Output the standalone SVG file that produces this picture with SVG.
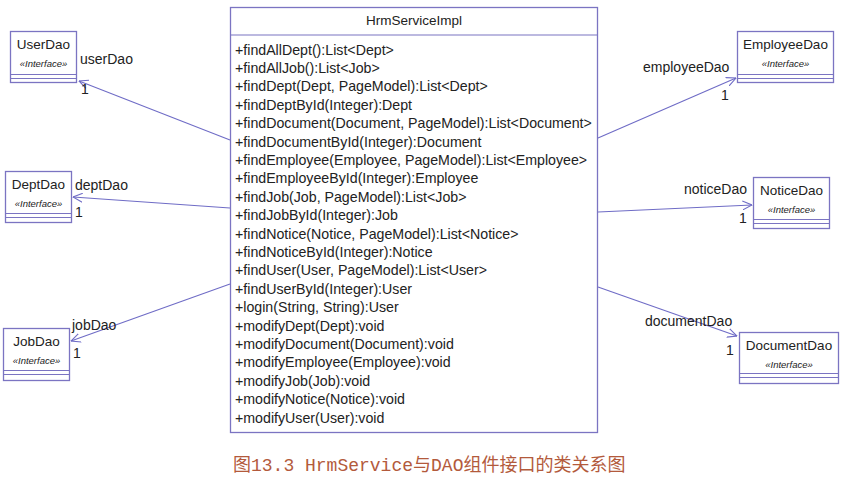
<svg xmlns="http://www.w3.org/2000/svg" width="841" height="481" viewBox="0 0 841 481">
<style>
.box{fill:#fff;stroke:#7b74c2;stroke-width:1.3}
.sep{stroke:#7b74c2;stroke-width:1.2}
.t{font-family:"Liberation Sans",Arial,sans-serif;font-size:13.5px;fill:#222}
.c{text-anchor:middle}
.st{font-family:"Liberation Sans",Arial,sans-serif;font-size:9.5px;font-style:italic;fill:#222;text-anchor:middle}
.m{font-family:"Liberation Sans",Arial,sans-serif;font-size:14.2px;fill:#222}
.lbl{font-family:"Liberation Sans",Arial,sans-serif;font-size:14px;fill:#222}
.conn{stroke:#6f6cc6;stroke-width:1.1;fill:none;marker-end:url(#arr)}
.cap{font-family:"Liberation Mono","Noto Sans CJK SC",monospace;font-size:18px;fill:#b35a3c}
</style>
<defs>
<marker id="arr" viewBox="0 0 10 10" refX="9.5" refY="5" markerWidth="10" markerHeight="10" markerUnits="userSpaceOnUse" orient="auto">
<path d="M0,0.5 L9.5,5 L0,9.5" fill="none" stroke="#6f6cc6" stroke-width="1.1"/>
</marker>
</defs>
<rect width="841" height="481" fill="#fff"/>

<g id="connectors">
<line class="conn" x1="230" y1="140" x2="79" y2="81"/>
<line class="conn" x1="230" y1="208" x2="73" y2="197"/>
<line class="conn" x1="230" y1="284" x2="71" y2="341"/>
<line class="conn" x1="598" y1="138" x2="736" y2="78"/>
<line class="conn" x1="598" y1="212" x2="752" y2="205"/>
<line class="conn" x1="598" y1="287" x2="737" y2="336"/>
<text class="lbl" x="80" y="64">userDao</text>
<text class="lbl" x="81" y="94">1</text>
<text class="lbl" x="75" y="190">deptDao</text>
<text class="lbl" x="75" y="217">1</text>
<text class="lbl" x="72" y="330">jobDao</text>
<text class="lbl" x="73" y="358">1</text>
<text class="lbl" x="643" y="72">employeeDao</text>
<text class="lbl" x="721" y="100">1</text>
<text class="lbl" x="684" y="194">noticeDao</text>
<text class="lbl" x="739" y="223">1</text>
<text class="lbl" x="645" y="326">documentDao</text>
<text class="lbl" x="726" y="355">1</text>
</g>

<g id="HrmServiceImpl">
<rect class="box" x="230.5" y="7.5" width="367" height="425"/>
<line class="sep" x1="230.5" y1="35" x2="597.5" y2="35"/>
<text class="t c" x="414" y="25">HrmServiceImpl</text>
<g class="m">
<text x="235" y="54.5">+findAllDept():List&lt;Dept&gt;</text>
<text x="235" y="72.9">+findAllJob():List&lt;Job&gt;</text>
<text x="235" y="91.3">+findDept(Dept, PageModel):List&lt;Dept&gt;</text>
<text x="235" y="109.7">+findDeptById(Integer):Dept</text>
<text x="235" y="128.1">+findDocument(Document, PageModel):List&lt;Document&gt;</text>
<text x="235" y="146.5">+findDocumentById(Integer):Document</text>
<text x="235" y="164.9">+findEmployee(Employee, PageModel):List&lt;Employee&gt;</text>
<text x="235" y="183.3">+findEmployeeById(Integer):Employee</text>
<text x="235" y="201.7">+findJob(Job, PageModel):List&lt;Job&gt;</text>
<text x="235" y="220.1">+findJobById(Integer):Job</text>
<text x="235" y="238.5">+findNotice(Notice, PageModel):List&lt;Notice&gt;</text>
<text x="235" y="256.9">+findNoticeById(Integer):Notice</text>
<text x="235" y="275.3">+findUser(User, PageModel):List&lt;User&gt;</text>
<text x="235" y="293.7">+findUserById(Integer):User</text>
<text x="235" y="312.1">+login(String, String):User</text>
<text x="235" y="330.5">+modifyDept(Dept):void</text>
<text x="235" y="348.9">+modifyDocument(Document):void</text>
<text x="235" y="367.3">+modifyEmployee(Employee):void</text>
<text x="235" y="385.7">+modifyJob(Job):void</text>
<text x="235" y="404.1">+modifyNotice(Notice):void</text>
<text x="235" y="422.5">+modifyUser(User):void</text>
</g>
</g>

<g id="UserDao">
<rect class="box" x="10.5" y="31.5" width="66" height="51"/>
<line class="sep" x1="10.5" y1="74.5" x2="76.5" y2="74.5"/>
<line class="sep" x1="10.5" y1="78.5" x2="76.5" y2="78.5"/>
<text class="t c" x="43.5" y="49">UserDao</text>
<text class="st" x="43.5" y="67">«Interface»</text>
</g>

<g id="DeptDao">
<rect class="box" x="5.5" y="171.5" width="66" height="51"/>
<line class="sep" x1="5.5" y1="213.5" x2="71.5" y2="213.5"/>
<line class="sep" x1="5.5" y1="217.5" x2="71.5" y2="217.5"/>
<text class="t c" x="38.5" y="189">DeptDao</text>
<text class="st" x="38.5" y="207">«Interface»</text>
</g>

<g id="JobDao">
<rect class="box" x="3.5" y="328.5" width="66" height="52"/>
<line class="sep" x1="3.5" y1="370.5" x2="69.5" y2="370.5"/>
<line class="sep" x1="3.5" y1="374.5" x2="69.5" y2="374.5"/>
<text class="t c" x="36.5" y="346">JobDao</text>
<text class="st" x="36.5" y="364">«Interface»</text>
</g>

<g id="EmployeeDao">
<rect class="box" x="737.5" y="31.5" width="96" height="51"/>
<line class="sep" x1="737.5" y1="74.5" x2="833.5" y2="74.5"/>
<line class="sep" x1="737.5" y1="78.5" x2="833.5" y2="78.5"/>
<text class="t c" x="785.5" y="49">EmployeeDao</text>
<text class="st" x="785.5" y="67">«Interface»</text>
</g>

<g id="NoticeDao">
<rect class="box" x="753.5" y="177.5" width="76" height="51"/>
<line class="sep" x1="753.5" y1="219.5" x2="829.5" y2="219.5"/>
<line class="sep" x1="753.5" y1="223.5" x2="829.5" y2="223.5"/>
<text class="t c" x="791.5" y="195">NoticeDao</text>
<text class="st" x="791.5" y="213">«Interface»</text>
</g>

<g id="DocumentDao">
<rect class="box" x="739.5" y="332.5" width="99" height="51"/>
<line class="sep" x1="739.5" y1="373.5" x2="838.5" y2="373.5"/>
<line class="sep" x1="739.5" y1="377.5" x2="838.5" y2="377.5"/>
<text class="t c" x="789" y="350">DocumentDao</text>
<text class="st" x="789" y="368">«Interface»</text>
</g>

<text class="cap" x="233" y="471">图13.3 HrmService与DAO组件接口的类关系图</text>
</svg>
